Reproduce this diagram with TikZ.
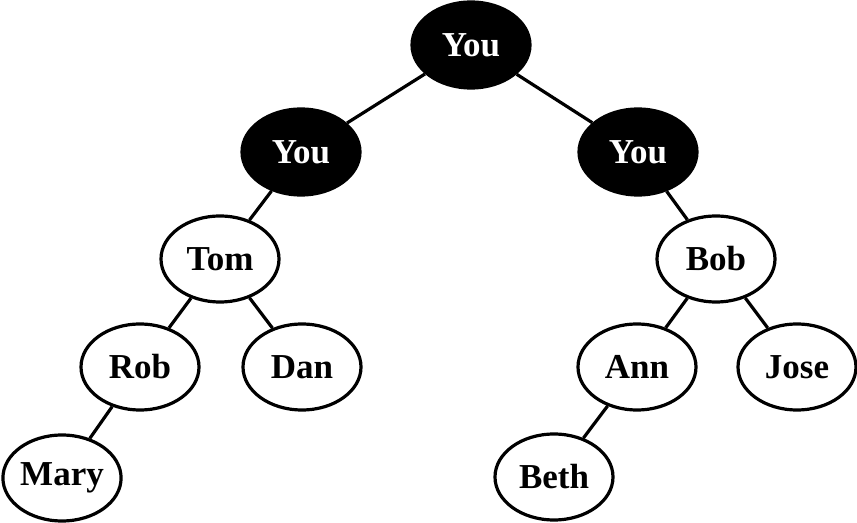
\documentclass[tikz,border=0pt]{standalone}
\usepackage{fontspec}
\setmainfont{Liberation Serif}
\usetikzlibrary{shapes.geometric}
\begin{document}
\begin{tikzpicture}[x=0.5pt, y=-0.5pt, line width=1.6pt,
    person/.style={ellipse, draw, fill=white, minimum width=59pt, minimum height=43pt,
        inner sep=0pt, font=\fontsize{17.5}{20}\selectfont\bfseries},
    self/.style={person, fill=black, text=white}]
    \useasboundingbox (0,0) rectangle (857,523);
    % lines first, ellipses on top
    \node[self] (youA) at (471,45) {You};
    \node[self] (youB) at (301,152) {You};
    \node[self] (youC) at (638,152) {You};
    \node[person] (tom) at (220,259) {Tom};
    \node[person] (bob) at (716,259) {Bob};
    \node[person] (rob) at (140,367) {Rob};
    \node[person] (dan) at (302,367) {Dan};
    \node[person] (ann) at (637,367) {Ann};
    \node[person] (jose) at (797,367) {Jose};
    \node[person] (mary) at (62,478) {Mary};
    \node[person] (beth) at (554,477) {Beth};
    \foreach \a/\b in {youA/youB, youA/youC, youB/tom, youC/bob, tom/rob,
                       tom/dan, rob/mary, bob/ann, bob/jose, ann/beth} {
        \draw (\a) -- (\b);
    }
\end{tikzpicture}
\end{document}
